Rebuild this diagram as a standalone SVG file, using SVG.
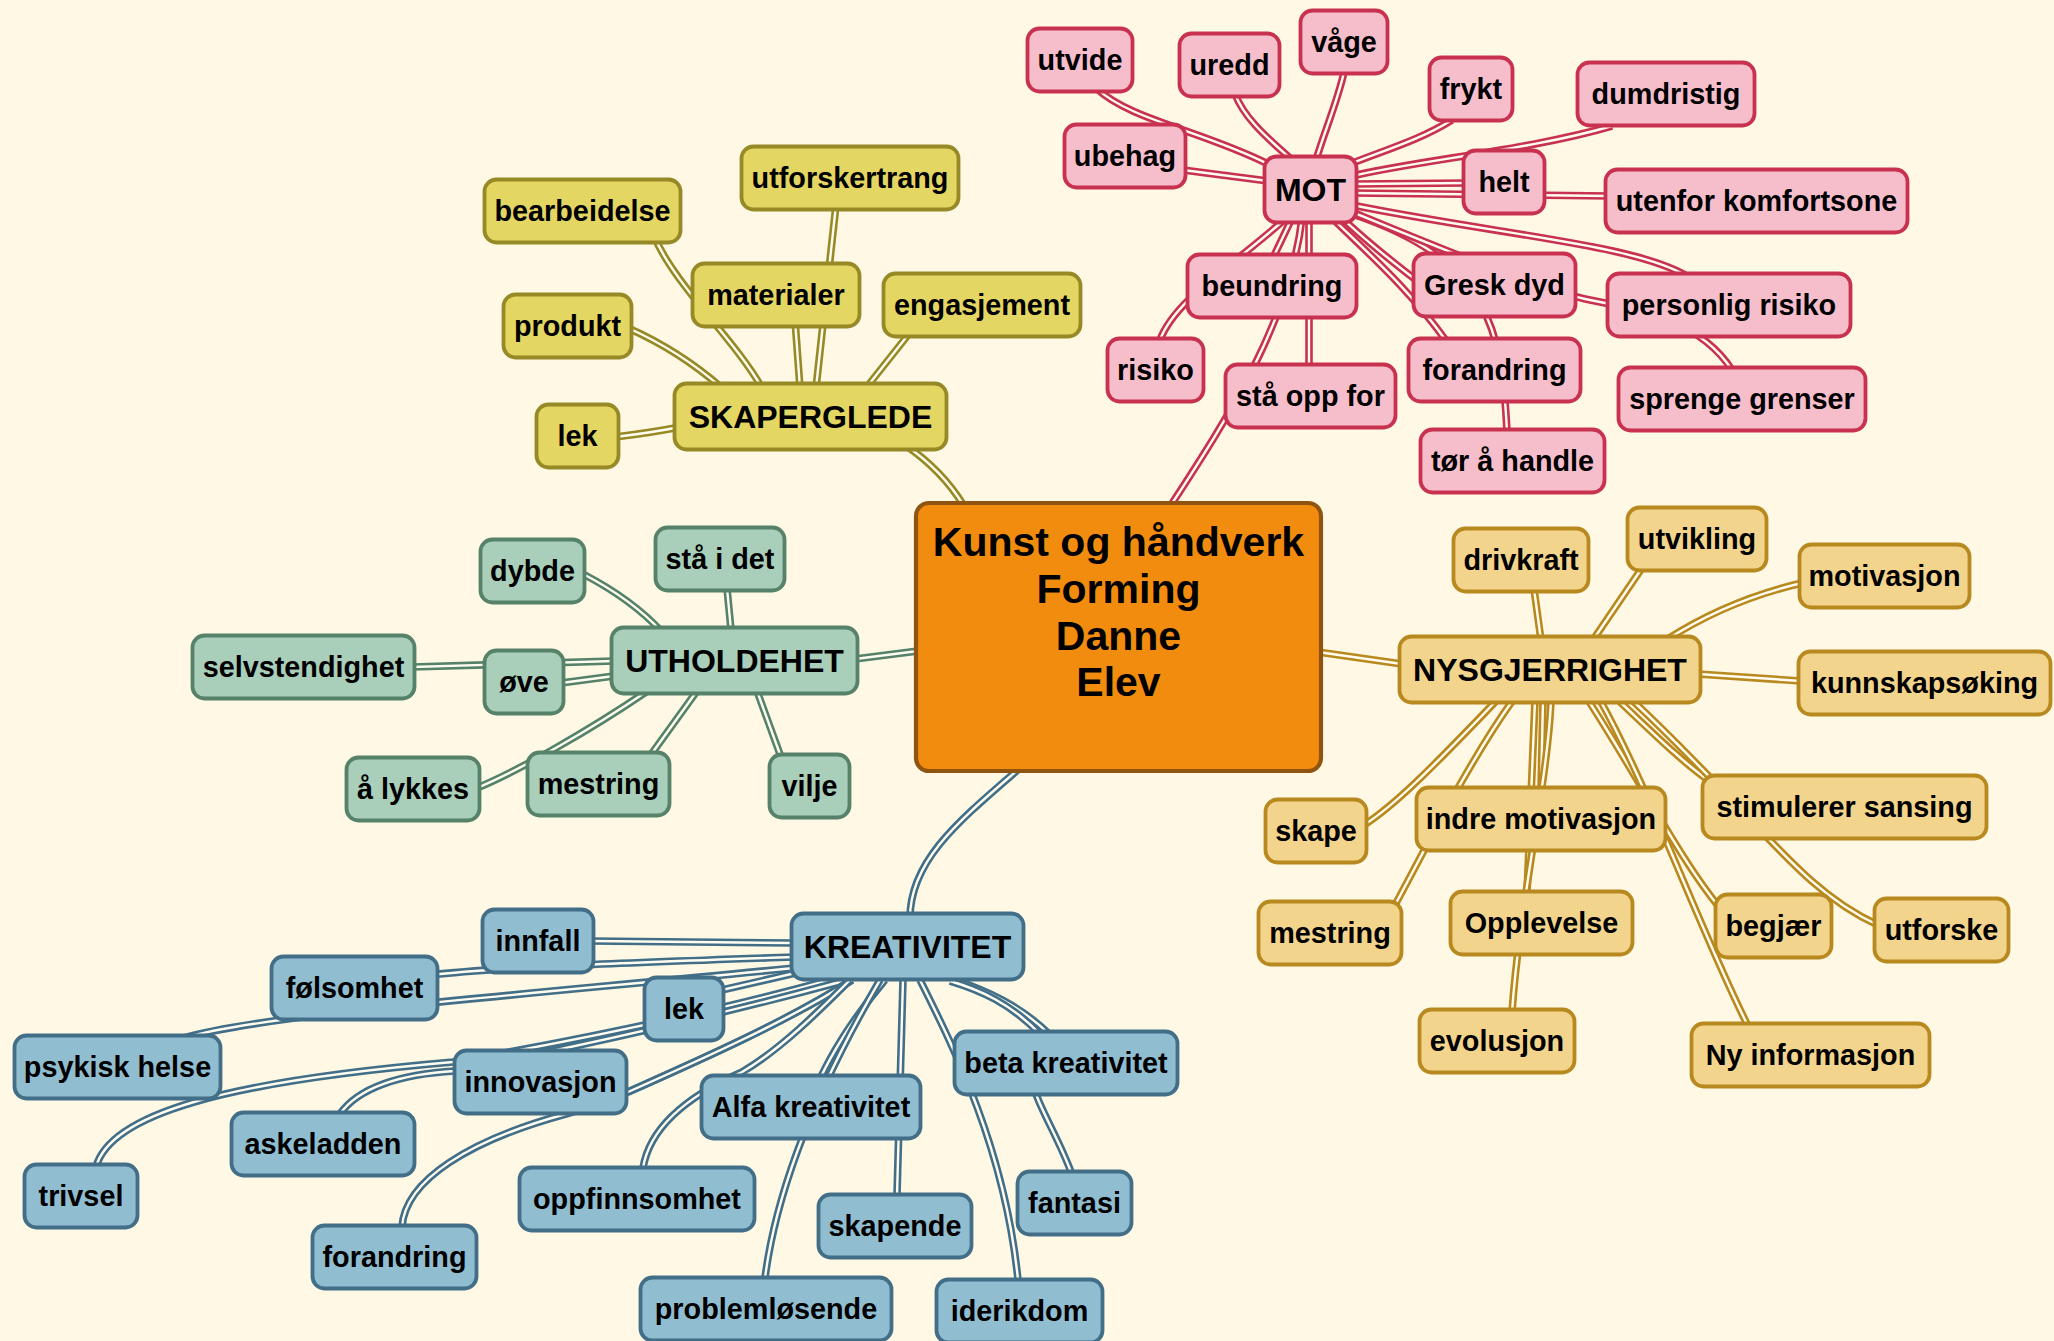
<svg xmlns="http://www.w3.org/2000/svg" width="2054" height="1341" viewBox="0 0 2054 1341">
<style>
.o{fill:none;stroke-width:7.6;stroke-linecap:butt}
.i{fill:none;stroke:#FFFDF2;stroke-width:2.4}
.yel .o{stroke:#968926}
.pink .o{stroke:#C83250}
.grn .o{stroke:#558269}
.nys .o{stroke:#B8891E}
.blu .o{stroke:#426F87}
.node rect{stroke-width:3.8}
.yel rect{fill:#E3D663;stroke:#968926}
.pink rect{fill:#F6BECB;stroke:#C83250}
.grn rect{fill:#A9CEBA;stroke:#558269}
.nys rect{fill:#F3D48C;stroke:#B8891E}
.blu rect{fill:#91BDD0;stroke:#426F87}
.ctr rect{fill:#F28C0E;stroke:#8F5510;stroke-width:4.2}
text{font-family:"Liberation Sans",Arial,sans-serif;font-weight:bold;fill:#000;text-anchor:middle}
.node text{font-size:28.8px}
.hub text{font-size:32px}
.ctr text{font-size:41px}
</style>
<defs>
<path id="y1" d="M905 445 Q 942 470 964 506"/>
<path id="y2" d="M615 437 C 640 434, 655 432, 680 427"/>
<path id="y3" d="M628 328 C 655 340, 690 360, 722 388"/>
<path id="y4" d="M655 238 C 675 285, 735 340, 762 388"/>
<path id="y5" d="M836 205 L 816 388"/>
<path id="y6" d="M795 320 L 800 388"/>
<path id="y7" d="M912 330 L 866 388"/>
<path id="p1" d="M1171 505 C 1230 415, 1290 320, 1302 218"/>
<path id="p2" d="M1309 368 L 1309 218"/>
<path id="p3" d="M1160 340 C 1175 300, 1230 268, 1284 220"/>
<path id="p4" d="M1272 260 L 1292 218"/>
<path id="p5" d="M1416 280 C 1390 260, 1365 240, 1342 218"/>
<path id="p6" d="M1507 432 C 1502 330, 1490 260, 1352 214"/>
<path id="p7" d="M1447 342 C 1410 290, 1370 255, 1332 218"/>
<path id="p8" d="M1690 278 C 1640 245, 1500 235, 1352 205"/>
<path id="p9" d="M1732 370 C 1700 320, 1640 310, 1590 300 S 1420 240 1352 212"/>
<path id="p10" d="M1610 196 L 1352 193"/>
<path id="p11" d="M1466 183 L 1352 184"/>
<path id="p12" d="M1612 126 C 1530 150, 1420 160, 1352 176"/>
<path id="p13" d="M1452 120 C 1420 140, 1385 150, 1350 164"/>
<path id="p14" d="M1344 72 C 1338 100, 1325 130, 1316 160"/>
<path id="p15" d="M1235 94 C 1245 120, 1270 140, 1292 160"/>
<path id="p16" d="M1096 88 C 1130 120, 1200 130, 1268 164"/>
<path id="p17" d="M1183 170 L 1268 181"/>
<path id="g1" d="M855 659 L 918 651"/>
<path id="g2" d="M583 574 C 610 588, 640 608, 662 632"/>
<path id="g3" d="M727 588 L 731 630"/>
<path id="g4" d="M412 667 L 614 661"/>
<path id="g5" d="M561 683 L 614 676"/>
<path id="g6" d="M477 788 C 520 770, 590 730, 646 692"/>
<path id="g7" d="M650 756 L 697 691"/>
<path id="g8" d="M781 757 L 757 691"/>
<path id="n1" d="M1402 664 L 1318 652"/>
<path id="n2" d="M1534 589 L 1541 640"/>
<path id="n3" d="M1642 568 L 1593 640"/>
<path id="n4" d="M1802 583 C 1750 595, 1705 615, 1666 640"/>
<path id="n5" d="M1698 674 L 1801 681"/>
<path id="n6" d="M1364 825 C 1395 805, 1430 770, 1497 700"/>
<path id="n7" d="M1395 905 C 1430 840, 1470 760, 1513 700"/>
<path id="n8" d="M1541 790 L 1543 700"/>
<path id="n9" d="M1527 894 C 1530 820, 1533 760, 1535 700"/>
<path id="n10" d="M1512 1012 C 1520 900, 1548 780, 1551 700"/>
<path id="n11" d="M1720 908 C 1680 860, 1640 780, 1588 700"/>
<path id="n12" d="M1748 1026 C 1700 930, 1650 790, 1600 700"/>
<path id="n13" d="M1618 700 C 1650 730, 1680 760, 1708 780"/>
<path id="n14" d="M1878 925 C 1800 890, 1760 820, 1632 700"/>
<path id="b1" d="M1020 768 C 960 820, 910 860, 910 918"/>
<path id="b2" d="M591 941 L 794 943"/>
<path id="b3" d="M430 975 C 500 967, 650 962, 794 957"/>
<path id="b4" d="M184 1038 C 260 1015, 500 997, 794 968"/>
<path id="b5" d="M700 995 L 800 972"/>
<path id="b6" d="M96 1167 C 110 1115, 220 1082, 453 1062 C 580 1040, 720 1010, 830 980"/>
<path id="b7" d="M340 1114 C 358 1088, 400 1074, 455 1071 C 560 1050, 700 1020, 840 982"/>
<path id="b8" d="M628 1092 C 700 1060, 790 1020, 852 980"/>
<path id="b9" d="M402 1227 C 405 1180, 470 1140, 566 1114 C 595 1106, 612 1099, 628 1092 C 700 1060, 790 1020, 852 980"/>
<path id="b10" d="M643 1168 C 650 1125, 690 1095, 742 1072 C 780 1050, 820 1010, 850 980"/>
<path id="b11" d="M811 1100 C 830 1050, 860 1010, 885 980"/>
<path id="b12" d="M765 1278 C 775 1200, 810 1100, 880 980"/>
<path id="b13" d="M897 1195 L 903 980"/>
<path id="b14" d="M1018 1280 C 1005 1150, 955 1050, 920 980"/>
<path id="b15" d="M1050 1035 C 1020 1005, 985 990, 955 980"/>
<path id="b16" d="M1071 1172 C 1050 1115, 1010 1070, 1040 1034 C 1010 1003, 980 990, 950 981"/>
</defs>
<rect width="2054" height="1341" fill="#FFF8E4"/>
<g id="connectors">
<g class="yel">
<use href="#y1" class="o"/><use href="#y1" class="i"/>
<use href="#y2" class="o"/><use href="#y2" class="i"/>
<use href="#y3" class="o"/><use href="#y3" class="i"/>
<use href="#y4" class="o"/><use href="#y4" class="i"/>
<use href="#y5" class="o"/><use href="#y5" class="i"/>
<use href="#y6" class="o"/><use href="#y6" class="i"/>
<use href="#y7" class="o"/><use href="#y7" class="i"/>
</g>
<g class="pink">
<use href="#p1" class="o"/><use href="#p1" class="i"/>
<use href="#p2" class="o"/><use href="#p2" class="i"/>
<use href="#p3" class="o"/><use href="#p3" class="i"/>
<use href="#p4" class="o"/><use href="#p4" class="i"/>
<use href="#p5" class="o"/><use href="#p5" class="i"/>
<use href="#p6" class="o"/><use href="#p6" class="i"/>
<use href="#p7" class="o"/><use href="#p7" class="i"/>
<use href="#p8" class="o"/><use href="#p8" class="i"/>
<use href="#p9" class="o"/><use href="#p9" class="i"/>
<use href="#p10" class="o"/><use href="#p10" class="i"/>
<use href="#p11" class="o"/><use href="#p11" class="i"/>
<use href="#p12" class="o"/><use href="#p12" class="i"/>
<use href="#p13" class="o"/><use href="#p13" class="i"/>
<use href="#p14" class="o"/><use href="#p14" class="i"/>
<use href="#p15" class="o"/><use href="#p15" class="i"/>
<use href="#p16" class="o"/><use href="#p16" class="i"/>
<use href="#p17" class="o"/><use href="#p17" class="i"/>
</g>
<g class="grn">
<use href="#g1" class="o"/><use href="#g1" class="i"/>
<use href="#g2" class="o"/><use href="#g2" class="i"/>
<use href="#g3" class="o"/><use href="#g3" class="i"/>
<use href="#g4" class="o"/><use href="#g4" class="i"/>
<use href="#g5" class="o"/><use href="#g5" class="i"/>
<use href="#g6" class="o"/><use href="#g6" class="i"/>
<use href="#g7" class="o"/><use href="#g7" class="i"/>
<use href="#g8" class="o"/><use href="#g8" class="i"/>
</g>
<g class="nys">
<use href="#n1" class="o"/><use href="#n1" class="i"/>
<use href="#n2" class="o"/><use href="#n2" class="i"/>
<use href="#n3" class="o"/><use href="#n3" class="i"/>
<use href="#n4" class="o"/><use href="#n4" class="i"/>
<use href="#n5" class="o"/><use href="#n5" class="i"/>
<use href="#n6" class="o"/><use href="#n6" class="i"/>
<use href="#n7" class="o"/><use href="#n7" class="i"/>
<use href="#n8" class="o"/><use href="#n8" class="i"/>
<use href="#n9" class="o"/><use href="#n9" class="i"/>
<use href="#n10" class="o"/><use href="#n10" class="i"/>
<use href="#n11" class="o"/><use href="#n11" class="i"/>
<use href="#n12" class="o"/><use href="#n12" class="i"/>
<use href="#n13" class="o"/><use href="#n13" class="i"/>
<use href="#n14" class="o"/><use href="#n14" class="i"/>
</g>
<g class="blu">
<use href="#b1" class="o"/><use href="#b1" class="i"/>
<use href="#b2" class="o"/><use href="#b2" class="i"/>
<use href="#b3" class="o"/><use href="#b3" class="i"/>
<use href="#b4" class="o"/><use href="#b4" class="i"/>
<use href="#b5" class="o"/><use href="#b5" class="i"/>
<use href="#b6" class="o"/><use href="#b6" class="i"/>
<use href="#b7" class="o"/><use href="#b7" class="i"/>
<use href="#b8" class="o"/><use href="#b8" class="i"/>
<use href="#b9" class="o"/><use href="#b9" class="i"/>
<use href="#b10" class="o"/><use href="#b10" class="i"/>
<use href="#b11" class="o"/><use href="#b11" class="i"/>
<use href="#b12" class="o"/><use href="#b12" class="i"/>
<use href="#b13" class="o"/><use href="#b13" class="i"/>
<use href="#b14" class="o"/><use href="#b14" class="i"/>
<use href="#b15" class="o"/><use href="#b15" class="i"/>
<use href="#b16" class="o"/><use href="#b16" class="i"/>
</g>
</g>

<g id="center" class="ctr"><rect x="916" y="503" width="405" height="268" rx="13"/>
<text x="1118.5" y="556">Kunst og håndverk</text><text x="1118.5" y="603">Forming</text><text x="1118.5" y="650">Danne</text><text x="1118.5" y="696">Elev</text></g>

<g id="skaperglede" class="node hub yel"><rect x="674.5" y="383.5" width="272" height="66" rx="12"/><text x="810.5" y="428">SKAPERGLEDE</text></g>
<g id="bearbeidelse" class="node yel"><rect x="484.5" y="179.5" width="196" height="63" rx="12"/><text x="582.5" y="221">bearbeidelse</text></g>
<g id="utforskertrang" class="node yel"><rect x="741.5" y="146.5" width="217" height="63" rx="12"/><text x="850" y="188">utforskertrang</text></g>
<g id="materialer" class="node yel"><rect x="692.5" y="263.5" width="167" height="63" rx="12"/><text x="776" y="305">materialer</text></g>
<g id="engasjement" class="node yel"><rect x="883.5" y="273.5" width="197" height="63" rx="12"/><text x="982" y="315">engasjement</text></g>
<g id="produkt" class="node yel"><rect x="503.5" y="294.5" width="128" height="63" rx="12"/><text x="567.5" y="336">produkt</text></g>
<g id="lek-s" class="node yel"><rect x="536.5" y="404.5" width="82" height="63" rx="12"/><text x="577.5" y="446">lek</text></g>

<g id="mot" class="node hub pink"><rect x="1264.5" y="156.5" width="92" height="66" rx="12"/><text x="1310.5" y="201">MOT</text></g>
<g id="utvide" class="node pink"><rect x="1027.5" y="28.5" width="105" height="63" rx="12"/><text x="1080" y="70">utvide</text></g>
<g id="uredd" class="node pink"><rect x="1179.5" y="33.5" width="100" height="63" rx="12"/><text x="1229.5" y="75">uredd</text></g>
<g id="vage" class="node pink"><rect x="1300.5" y="10.5" width="87" height="63" rx="12"/><text x="1344" y="52">våge</text></g>
<g id="frykt" class="node pink"><rect x="1429.5" y="57.5" width="83" height="63" rx="12"/><text x="1471" y="99">frykt</text></g>
<g id="dumdristig" class="node pink"><rect x="1577.5" y="62.5" width="177" height="63" rx="12"/><text x="1666" y="104">dumdristig</text></g>
<g id="ubehag" class="node pink"><rect x="1064.5" y="124.5" width="121" height="63" rx="12"/><text x="1125" y="166">ubehag</text></g>
<g id="helt" class="node pink"><rect x="1463.5" y="150.5" width="81" height="63" rx="12"/><text x="1504" y="192">helt</text></g>
<g id="utenfor" class="node pink"><rect x="1605.5" y="169.5" width="302" height="63" rx="12"/><text x="1756.5" y="211">utenfor komfortsone</text></g>
<g id="beundring" class="node pink"><rect x="1187.5" y="254.5" width="169" height="63" rx="12"/><text x="1272" y="296">beundring</text></g>
<g id="gresk" class="node pink"><rect x="1413.5" y="253.5" width="162" height="63" rx="12"/><text x="1494.5" y="295">Gresk dyd</text></g>
<g id="personlig" class="node pink"><rect x="1607.5" y="273.5" width="243" height="63" rx="12"/><text x="1729" y="315">personlig risiko</text></g>
<g id="risiko" class="node pink"><rect x="1107.5" y="338.5" width="96" height="63" rx="12"/><text x="1155.5" y="380">risiko</text></g>
<g id="staopp" class="node pink"><rect x="1225.5" y="364.5" width="170" height="63" rx="12"/><text x="1310.5" y="406">stå opp for</text></g>
<g id="forandring-m" class="node pink"><rect x="1408.5" y="338.5" width="172" height="63" rx="12"/><text x="1494.5" y="380">forandring</text></g>
<g id="sprenge" class="node pink"><rect x="1618.5" y="367.5" width="247" height="63" rx="12"/><text x="1742" y="409">sprenge grenser</text></g>
<g id="tor" class="node pink"><rect x="1420.5" y="429.5" width="184" height="63" rx="12"/><text x="1512.5" y="471">tør å handle</text></g>

<g id="utholdehet" class="node hub grn"><rect x="611.5" y="627.5" width="246" height="66" rx="12"/><text x="734.5" y="672">UTHOLDEHET</text></g>
<g id="dybde" class="node grn"><rect x="480.5" y="539.5" width="104" height="63" rx="12"/><text x="532.5" y="581">dybde</text></g>
<g id="staidet" class="node grn"><rect x="655.5" y="527.5" width="129" height="63" rx="12"/><text x="720" y="569">stå i det</text></g>
<g id="selvstendighet" class="node grn"><rect x="192.5" y="635.5" width="222" height="63" rx="12"/><text x="303.5" y="677">selvstendighet</text></g>
<g id="ove" class="node grn"><rect x="484.5" y="650.5" width="79" height="63" rx="12"/><text x="524" y="692">øve</text></g>
<g id="alykkes" class="node grn"><rect x="346.5" y="757.5" width="133" height="63" rx="12"/><text x="413" y="799">å lykkes</text></g>
<g id="mestring-u" class="node grn"><rect x="527.5" y="752.5" width="142" height="63" rx="12"/><text x="598.5" y="794">mestring</text></g>
<g id="vilje" class="node grn"><rect x="769.5" y="754.5" width="80" height="63" rx="12"/><text x="809.5" y="796">vilje</text></g>

<g id="nysgjerrighet" class="node hub nys"><rect x="1399.5" y="636.5" width="301" height="66" rx="12"/><text x="1550" y="681">NYSGJERRIGHET</text></g>
<g id="drivkraft" class="node nys"><rect x="1453.5" y="528.5" width="135" height="63" rx="12"/><text x="1521" y="570">drivkraft</text></g>
<g id="utvikling" class="node nys"><rect x="1627.5" y="507.5" width="139" height="63" rx="12"/><text x="1697" y="549">utvikling</text></g>
<g id="motivasjon" class="node nys"><rect x="1799.5" y="544.5" width="170" height="63" rx="12"/><text x="1884.5" y="586">motivasjon</text></g>
<g id="kunnskap" class="node nys"><rect x="1798.5" y="651.5" width="252" height="63" rx="12"/><text x="1924.5" y="693">kunnskapsøking</text></g>
<g id="skape" class="node nys"><rect x="1265.5" y="799.5" width="101" height="63" rx="12"/><text x="1316" y="841">skape</text></g>
<g id="indre" class="node nys"><rect x="1416.5" y="787.5" width="249" height="63" rx="12"/><text x="1541" y="829">indre motivasjon</text></g>
<g id="stimulerer" class="node nys"><rect x="1702.5" y="775.5" width="284" height="63" rx="12"/><text x="1844.5" y="817">stimulerer sansing</text></g>
<g id="mestring-n" class="node nys"><rect x="1258.5" y="901.5" width="143" height="63" rx="12"/><text x="1330" y="943">mestring</text></g>
<g id="opplevelse" class="node nys"><rect x="1450.5" y="891.5" width="182" height="63" rx="12"/><text x="1541.5" y="933">Opplevelse</text></g>
<g id="begjaer" class="node nys"><rect x="1715.5" y="894.5" width="116" height="63" rx="12"/><text x="1773.5" y="936">begjær</text></g>
<g id="utforske" class="node nys"><rect x="1874.5" y="898.5" width="134" height="63" rx="12"/><text x="1941.5" y="940">utforske</text></g>
<g id="evolusjon" class="node nys"><rect x="1419.5" y="1009.5" width="155" height="63" rx="12"/><text x="1497" y="1051">evolusjon</text></g>
<g id="nyinfo" class="node nys"><rect x="1691.5" y="1023.5" width="238" height="63" rx="12"/><text x="1810.5" y="1065">Ny informasjon</text></g>

<g id="kreativitet" class="node hub blu"><rect x="791.5" y="913.5" width="232" height="66" rx="12"/><text x="907.5" y="958">KREATIVITET</text></g>
<g id="innfall" class="node blu"><rect x="482.5" y="909.5" width="111" height="63" rx="12"/><text x="538" y="951">innfall</text></g>
<g id="folsomhet" class="node blu"><rect x="271.5" y="956.5" width="166" height="63" rx="12"/><text x="354.5" y="998">følsomhet</text></g>
<g id="lek-k" class="node blu"><rect x="644.5" y="977.5" width="79" height="63" rx="12"/><text x="684" y="1019">lek</text></g>
<g id="psykisk" class="node blu"><rect x="14.5" y="1035.5" width="206" height="63" rx="12"/><text x="117.5" y="1077">psykisk helse</text></g>
<g id="innovasjon" class="node blu"><rect x="454.5" y="1050.5" width="172" height="63" rx="12"/><text x="540.5" y="1092">innovasjon</text></g>
<g id="alfa" class="node blu"><rect x="701.5" y="1075.5" width="219" height="63" rx="12"/><text x="811" y="1117">Alfa kreativitet</text></g>
<g id="beta" class="node blu"><rect x="954.5" y="1031.5" width="223" height="63" rx="12"/><text x="1066" y="1073">beta kreativitet</text></g>
<g id="askeladden" class="node blu"><rect x="231.5" y="1112.5" width="183" height="63" rx="12"/><text x="323" y="1154">askeladden</text></g>
<g id="trivsel" class="node blu"><rect x="24.5" y="1164.5" width="113" height="63" rx="12"/><text x="81" y="1206">trivsel</text></g>
<g id="oppfinnsomhet" class="node blu"><rect x="519.5" y="1167.5" width="235" height="63" rx="12"/><text x="637" y="1209">oppfinnsomhet</text></g>
<g id="skapende" class="node blu"><rect x="818.5" y="1194.5" width="153" height="63" rx="12"/><text x="895" y="1236">skapende</text></g>
<g id="fantasi" class="node blu"><rect x="1017.5" y="1171.5" width="114" height="63" rx="12"/><text x="1074.5" y="1213">fantasi</text></g>
<g id="forandring-k" class="node blu"><rect x="312.5" y="1225.5" width="164" height="63" rx="12"/><text x="394.5" y="1267">forandring</text></g>
<g id="problem" class="node blu"><rect x="640.5" y="1277.5" width="251" height="63" rx="12"/><text x="766" y="1319">problemløsende</text></g>
<g id="iderikdom" class="node blu"><rect x="936.5" y="1279.5" width="166" height="63" rx="12"/><text x="1019.5" y="1321">iderikdom</text></g>
</svg>
